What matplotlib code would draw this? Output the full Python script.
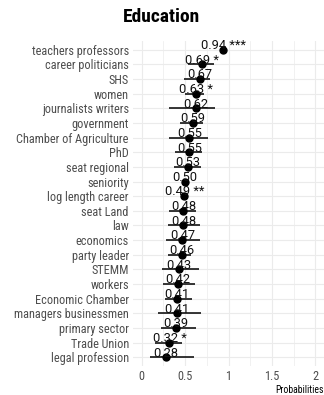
import matplotlib
matplotlib.use("Agg")
import matplotlib.pyplot as plt
from matplotlib import font_manager as fm
from matplotlib.ticker import MultipleLocator

def pick_font(cands):
    names = {f.name for f in fm.fontManager.ttflist}
    for c in cands:
        if c in names:
            return c
    return "DejaVu Sans"

FONT = pick_font(["Roboto Condensed", "Liberation Sans Narrow", "Roboto"])
LABEL_FONT = pick_font(["Roboto", "Liberation Sans"])
plt.rcParams["font.family"] = [FONT, "DejaVu Sans"]

categories = [
    "teachers professors", "career politicians", "SHS", "women",
    "journalists writers", "government", "Chamber of Agriculture", "PhD",
    "seat regional", "seniority", "log length career", "seat Land", "law",
    "economics", "party leader", "STEMM", "workers", "Economic Chamber",
    "managers businessmen", "primary sector", "Trade Union", "legal profession",
]
estimates = [0.94, 0.69, 0.67, 0.63, 0.62, 0.59, 0.55, 0.55, 0.53, 0.50, 0.49,
             0.48, 0.48, 0.47, 0.46, 0.43, 0.42, 0.41, 0.41, 0.39, 0.32, 0.28]
ci_low = [0.92, 0.53, 0.49, 0.50, 0.32, 0.44, 0.32, 0.38, 0.37, 0.46, 0.46,
          0.32, 0.30, 0.28, 0.30, 0.23, 0.24, 0.27, 0.19, 0.22, 0.15, 0.10]
ci_high = [0.96, 0.83, 0.79, 0.72, 0.85, 0.71, 0.76, 0.70, 0.68, 0.54, 0.52,
           0.63, 0.67, 0.67, 0.57, 0.66, 0.61, 0.58, 0.68, 0.63, 0.47, 0.60]
stars = ["***", "*", "", "*", "", "", "", "", "", "", "**",
         "", "", "", "", "", "", "", "", "", "*", ""]
x_ticks = [0, 0.5, 1, 1.5, 2]
x_ticklabels = ["0", "0.5", "1", "1.5", "2"]

fig = plt.figure(figsize=(3.24, 3.95), dpi=100)
ax = fig.add_axes([133 / 324, 1 - 366 / 395, 1 - 133 / 324, (366 - 41) / 395])

n = len(categories)
ypos = list(range(n))

ax.hlines(ypos, ci_low, ci_high, color="black", lw=1.1, zorder=3)
ax.plot(estimates, ypos, "o", color="black", ms=5, zorder=4)
for y, v, s in zip(ypos, estimates, stars):
    lab = f"{v:.2f}" + (f" {s}" if s else "")
    ax.annotate(lab, (v, y), xytext=(0, 0.5), textcoords="offset points",
                ha="center", va="baseline", fontsize=9.3, color="#111111",
                family=[LABEL_FONT, "DejaVu Sans"], zorder=5)

ax.set_ylim(n - 1 + 0.6, -0.6)
ax.set_yticks(ypos)
ax.set_yticklabels(categories)
ax.set_xlim(-0.1, 2.1)
ax.set_xticks(x_ticks)
ax.set_xticklabels(x_ticklabels)
ax.xaxis.set_minor_locator(MultipleLocator(0.25))

ax.grid(True, which="major", color="#ebebeb", lw=0.8)
ax.grid(True, which="minor", axis="x", color="#ebebeb", lw=0.5)
ax.set_axisbelow(True)
for sp in ax.spines.values():
    sp.set_visible(False)
ax.tick_params(which="both", length=0, labelsize=8.8, labelcolor="#4d4d4d", pad=3)

ax.set_xlabel("Probabilities", fontsize=7, color="black", loc="right", labelpad=1)
fig.suptitle("Education", fontsize=14, fontweight="bold", x=0.5, y=1 - 8 / 395, va="top")

fig.savefig("out.png", dpi=100)
